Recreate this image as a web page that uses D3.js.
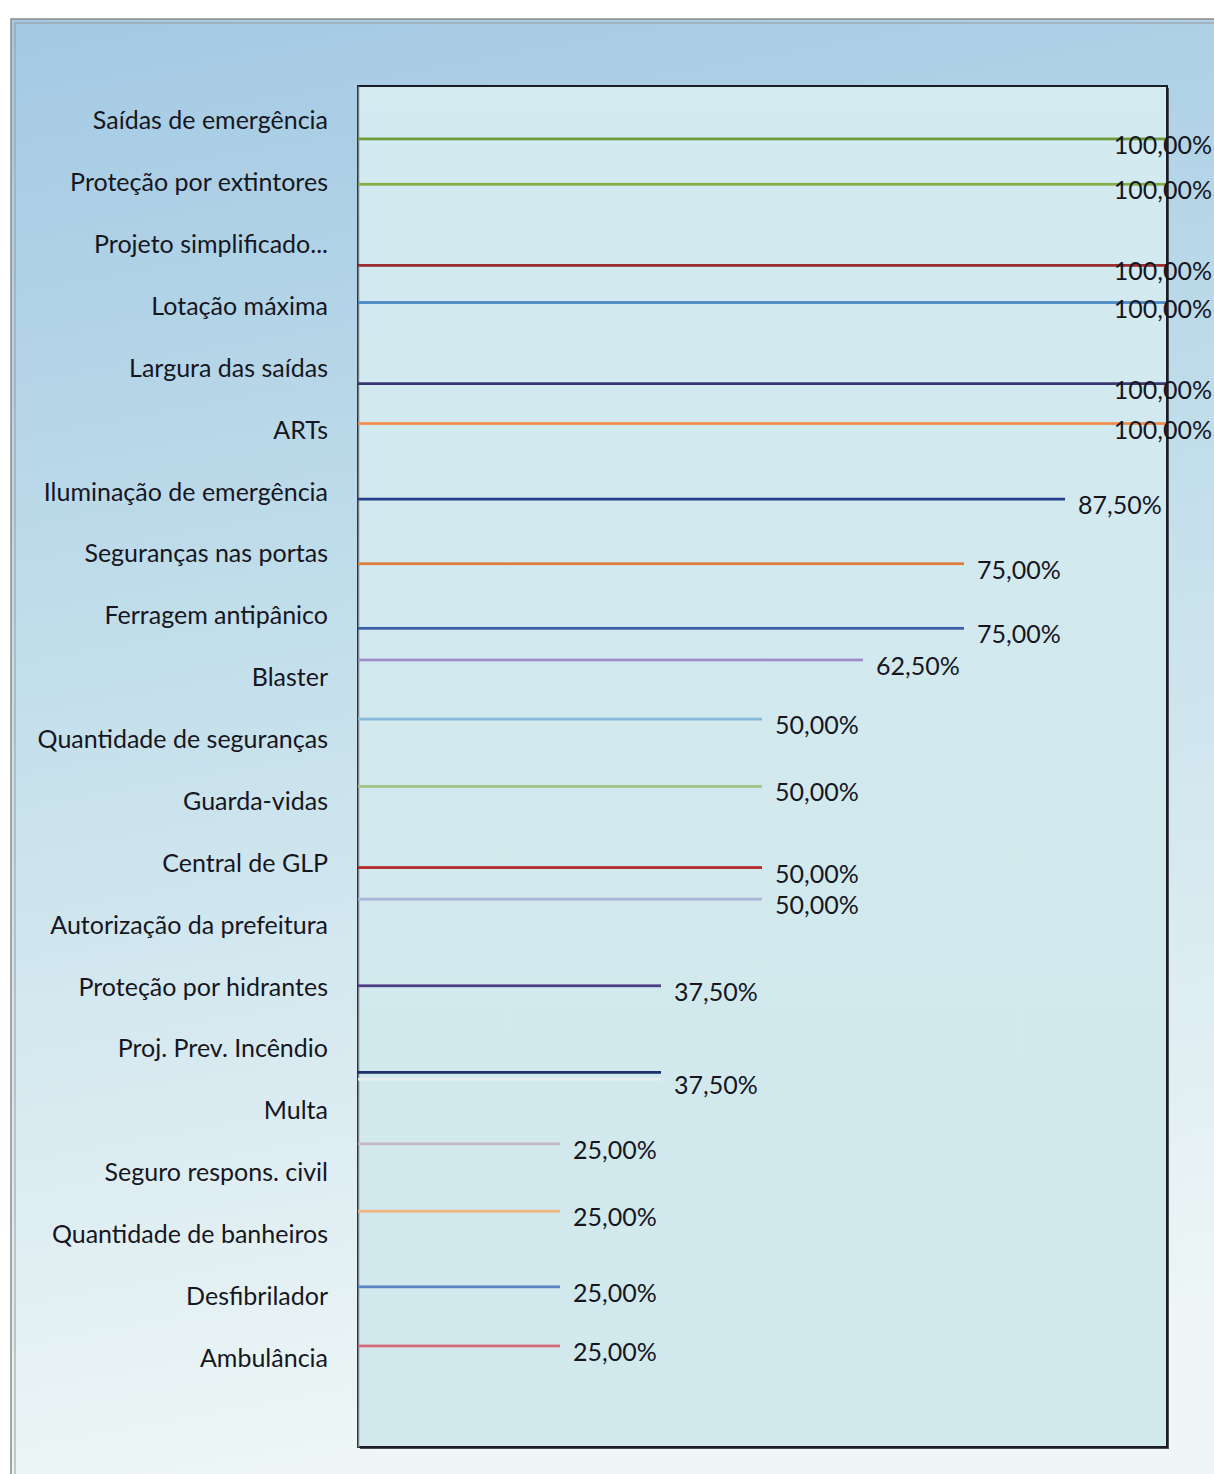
<!DOCTYPE html>
<html>
<head>
<meta charset="utf-8">
<script src="https://cdn.jsdelivr.net/npm/d3@7"></script>
<style>
  html, body { margin: 0; padding: 0; background: #ffffff; }
  svg { display: block; }
  text { font-family: Lato, "Open Sans", sans-serif; fill: #16161f; }
</style>
</head>
<body>
<svg id="chart" width="1214" height="1474"></svg>
<script>
// Requirement items, top to bottom
const categories = [
  "Saídas de emergência",
  "Proteção por extintores",
  "Projeto simplificado...",
  "Lotação máxima",
  "Largura das saídas",
  "ARTs",
  "Iluminação de emergência",
  "Seguranças nas portas",
  "Ferragem antipânico",
  "Blaster",
  "Quantidade de seguranças",
  "Guarda-vidas",
  "Central de GLP",
  "Autorização da prefeitura",
  "Proteção por hidrantes",
  "Proj. Prev. Incêndio",
  "Multa",
  "Seguro respons. civil",
  "Quantidade de banheiros",
  "Desfibrilador",
  "Ambulância"
];

// Share of answers for each item
const values = [
  1.00, 1.00, 1.00, 1.00, 1.00, 1.00,
  0.875, 0.75, 0.75, 0.625,
  0.50, 0.50, 0.50, 0.50,
  0.375, 0.375, 0.375,
  0.25, 0.25, 0.25, 0.25
];

// Each item is its own series; order of the series inside a cluster (top to bottom)
const seriesOrder = [
  "Multa",
  "Seguro respons. civil",
  "Autorização da prefeitura",
  "Quantidade de banheiros",
  "Quantidade de seguranças",
  "Blaster",
  "Guarda-vidas",
  "Ambulância",
  "Desfibrilador",
  "ARTs",
  "Lotação máxima",
  "Proteção por hidrantes",
  "Proteção por extintores",
  "Central de GLP",
  "Iluminação de emergência",
  "Seguranças nas portas",
  "Ferragem antipânico",
  "Largura das saídas",
  "Saídas de emergência",
  "Projeto simplificado...",
  "Proj. Prev. Incêndio"
];

// Labels that are drawn for each bar (one is hidden behind its neighbour)
const hiddenLabels = ["Proj. Prev. Incêndio"];

// Series colours, same order as seriesOrder
const palette = [
  "#e6eef0", "#c4b6c6", "#a9b6da", "#f2b483", "#86b8dc", "#9d8cc8", "#a3c387",
  "#d46a78", "#5b82c2", "#f08d4c", "#4b88c4", "#4d3d82", "#86ad45", "#b3282a",
  "#243f88", "#df7d3c", "#3b60a6", "#393672", "#6d9a3a", "#9a2b2e", "#1d2f6c"
];

const W = 1214, H = 1474;
const plot = { left: 358, right: 1167, top: 86, bottom: 1447 };
const chartRight = 1212;

const svg = d3.select("#chart");
const defs = svg.append("defs");

const bg = defs.append("linearGradient").attr("id", "bgGrad")
  .attr("x1", 0).attr("y1", 0).attr("x2", 0.15).attr("y2", 1);
bg.append("stop").attr("offset", "0%").attr("stop-color", "#a3c9e3");
bg.append("stop").attr("offset", "45%").attr("stop-color", "#c3dfeb");
bg.append("stop").attr("offset", "100%").attr("stop-color", "#eef6f6");

const pg = defs.append("linearGradient").attr("id", "plotGrad")
  .attr("x1", 0).attr("y1", 0).attr("x2", 0).attr("y2", 1);
pg.append("stop").attr("offset", "0%").attr("stop-color", "#d2eaf0");
pg.append("stop").attr("offset", "100%").attr("stop-color", "#d1e8ec");

// Chart area with its double frame
svg.append("rect").attr("x", 11).attr("y", 19).attr("width", W).attr("height", H)
  .attr("fill", "url(#bgGrad)").attr("stroke", "#8a8a8a").attr("stroke-width", 1.5);
svg.append("rect").attr("x", 15).attr("y", 23).attr("width", W).attr("height", H)
  .attr("fill", "none").attr("stroke", "#9a9a9a").attr("stroke-width", 1);

// Plot area with drop shadow
svg.append("rect")
  .attr("x", plot.left + 2).attr("y", plot.top + 2)
  .attr("width", plot.right - plot.left).attr("height", plot.bottom - plot.top)
  .attr("fill", "#4a4f58");
svg.append("rect")
  .attr("x", plot.left).attr("y", plot.top)
  .attr("width", plot.right - plot.left).attr("height", plot.bottom - plot.top)
  .attr("fill", "url(#plotGrad)").attr("stroke", "#1c1e26").attr("stroke-width", 2);

// Scales: one band per item plus the blank trailing row of the table
const y = d3.scaleBand()
  .domain(categories.concat([""]))
  .range([plot.top, plot.bottom])
  .paddingInner(0).paddingOuter(0);

const slot = d3.scaleBand()
  .domain(seriesOrder)
  .range([0, y.bandwidth()])
  .paddingInner(0).paddingOuter(0.75);

const x = d3.scaleLinear().domain([0, 1]).range([plot.left, plot.right - 1]);

const color = d3.scaleOrdinal().domain(seriesOrder).range(palette);

const pt = d3.formatLocale({ decimal: ",", thousands: ".", grouping: [3], currency: ["R$", ""] });
const fmt = pt.format(".2%");

const data = categories.map((c, i) => ({ name: c, value: values[i] }));

// Category axis
const axis = d3.axisLeft(y).tickSize(0).tickPadding(30)
  .tickValues(categories);
const gAxis = svg.append("g")
  .attr("transform", `translate(${plot.left},0)`)
  .call(axis);
gAxis.select(".domain").attr("stroke", "#7c7f88").attr("stroke-width", 1.5);
gAxis.selectAll(".tick text")
  .attr("dy", "0.38em")
  .attr("y", 3)
  .style("font-size", "25px")
  .style("font-family", "Lato, 'Open Sans', sans-serif")
  .attr("fill", "#16161f");

// Bars
svg.append("g").selectAll("rect")
  .data(data)
  .join("rect")
  .attr("x", x(0))
  .attr("y", d => y(d.name) + slot(d.name))
  .attr("width", d => x(d.value) - x(0))
  .attr("height", slot.bandwidth())
  .attr("fill", d => color(d.name));

// Value labels
const labels = svg.append("g").selectAll("text")
  .data(data.filter(d => !hiddenLabels.includes(d.name)))
  .join("text")
  .attr("y", d => y(d.name) + slot(d.name) + slot.bandwidth() / 2 + 5)
  .attr("dominant-baseline", "central")
  .style("font-size", "25px")
  .text(d => fmt(d.value));

labels.each(function (d) {
  const w = this.getComputedTextLength();
  const xs = Math.min(x(d.value) + 13, chartRight - w);
  d3.select(this).attr("x", xs);
});
</script>
</body>
</html>
